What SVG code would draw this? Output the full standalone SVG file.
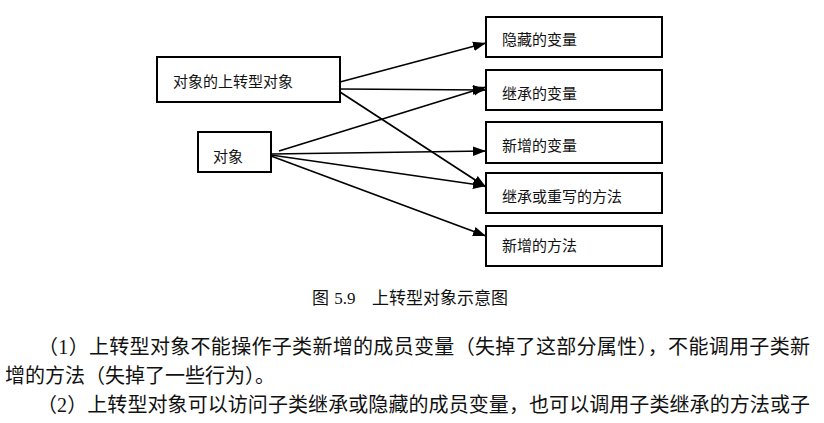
<svg xmlns="http://www.w3.org/2000/svg" width="824" height="423" viewBox="0 0 824 423">
<style>
.box{fill:#fff;stroke:#000;stroke-width:2}
.lbl{font-family:"Noto Sans CJK SC","Noto Sans",sans-serif;font-size:15px;fill:#111}
.edge{stroke:#000;stroke-width:1.7;fill:none;marker-end:url(#ah)}
.para{font-family:"Liberation Serif","Noto Sans CJK SC",serif;font-size:20px;fill:#111}
.cap{font-family:"Liberation Serif","Noto Sans CJK SC",serif;font-size:17px;fill:#111}
</style>
<defs>
<marker id="ah" markerUnits="userSpaceOnUse" markerWidth="14" markerHeight="12" viewBox="0 0 14 12" refX="13" refY="6" orient="auto">
<path d="M0,1.2 L13,6 L0,10.8 Z" fill="#000"/>
</marker>
</defs>
<rect width="824" height="423" fill="#fff"/>
<g id="connectors">
<line class="edge" x1="340" y1="82" x2="486" y2="43"/>
<line class="edge" x1="340" y1="89" x2="486" y2="90"/>
<line class="edge" x1="340" y1="92" x2="486" y2="187"/>
<line class="edge" x1="279" y1="151" x2="486" y2="87"/>
<line class="edge" x1="271" y1="154" x2="486" y2="151"/>
<line class="edge" x1="271" y1="155" x2="486" y2="186"/>
<line class="edge" x1="271" y1="156" x2="486" y2="236"/>
</g>
<g id="node-upcast">
<rect class="box" x="157" y="57" width="183" height="45"/>
<text class="lbl" x="173" y="87">对象的上转型对象</text>
</g>
<g id="node-object">
<rect class="box" x="198" y="132" width="73" height="40"/>
<text class="lbl" x="213" y="162">对象</text>
</g>
<g id="node-hidden-var">
<rect class="box" x="486" y="17" width="176" height="40"/>
<text class="lbl" x="502" y="45">隐藏的变量</text>
</g>
<g id="node-inherited-var">
<rect class="box" x="486" y="70" width="176" height="40"/>
<text class="lbl" x="502" y="99">继承的变量</text>
</g>
<g id="node-new-var">
<rect class="box" x="486" y="122" width="176" height="41"/>
<text class="lbl" x="502" y="151">新增的变量</text>
</g>
<g id="node-inherited-method">
<rect class="box" x="486" y="173" width="176" height="40"/>
<text class="lbl" x="502" y="202">继承或重写的方法</text>
</g>
<g id="node-new-method">
<rect class="box" x="486" y="226" width="176" height="40"/>
<text class="lbl" x="502" y="251">新增的方法</text>
</g>
<text class="cap" y="304"><tspan x="312">图</tspan><tspan x="330"> 5.9</tspan><tspan x="372">上转型对象示意图</tspan></text>
<text class="para" x="38" y="354" textLength="772" lengthAdjust="spacing">（1）上转型对象不能操作子类新增的成员变量（失掉了这部分属性），不能调用子类新</text>
<text class="para" x="5" y="383">增的方法（失掉了一些行为）。</text>
<text class="para" x="37" y="412" textLength="773" lengthAdjust="spacing">（2）上转型对象可以访问子类继承或隐藏的成员变量，也可以调用子类继承的方法或子</text>
</svg>
